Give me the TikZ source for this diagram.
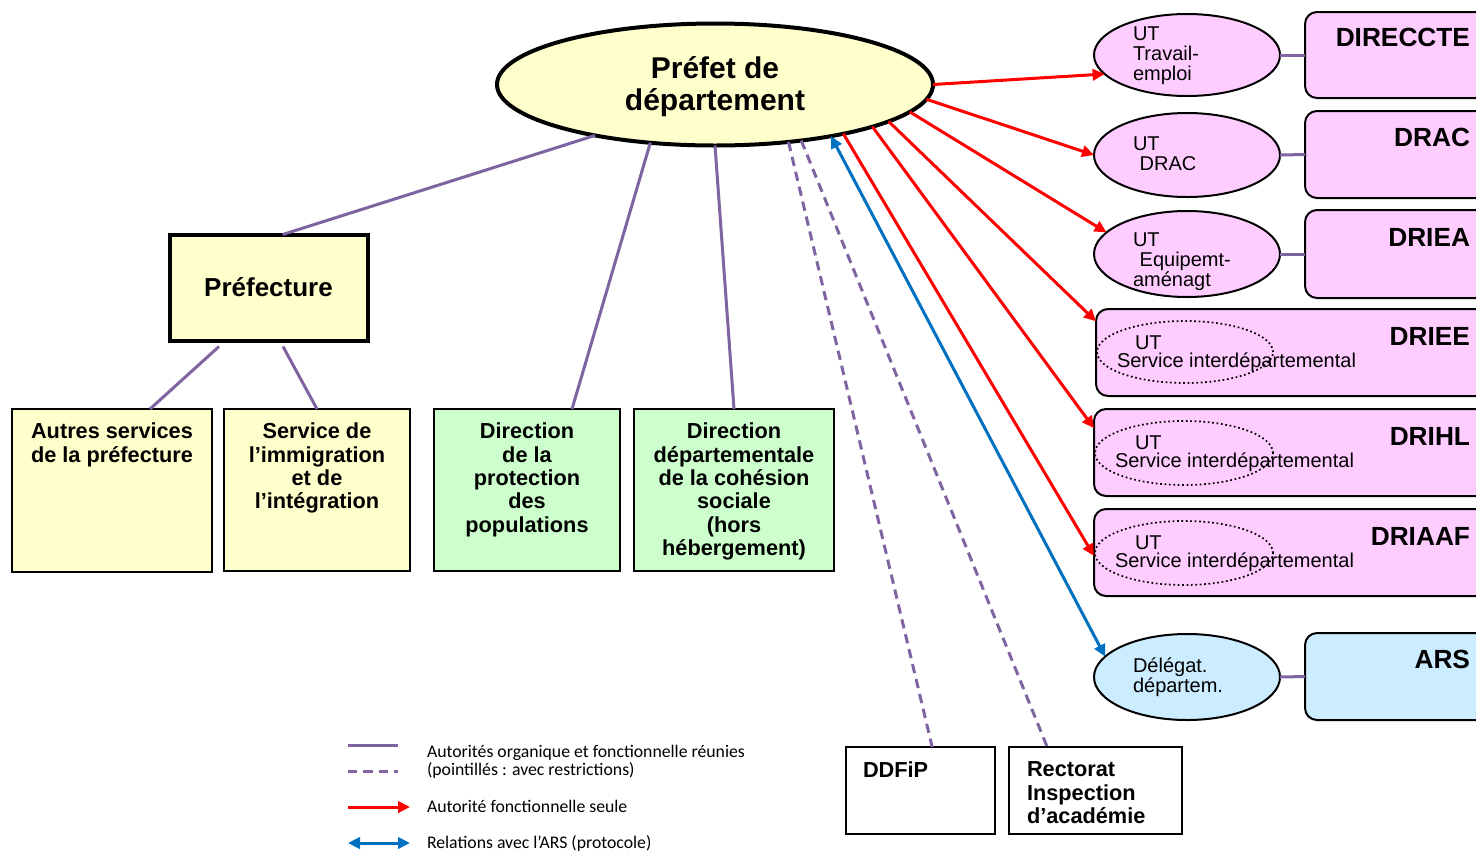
\documentclass[tikz,border=0pt]{standalone}
\usepackage{fontspec}
\setmainfont{Liberation Sans}
\newfontfamily\legfont{Carlito}
\usetikzlibrary{shapes.geometric,arrows.meta,calc}
\definecolor{cyellow}{HTML}{FFFFCC}
\definecolor{cgreen}{HTML}{CCFFCC}
\definecolor{cpink}{HTML}{FFCCFF}
\definecolor{cblue}{HTML}{CCECFF}
\definecolor{cpurple}{HTML}{8064A2}
\definecolor{cred}{HTML}{FF0000}
\definecolor{carrowblue}{HTML}{0070C0}
\newcommand{\mybox}[6]{\node[#6, minimum width={(#4-#2)*0.75pt}, minimum height={(#5-#3)*0.75pt}] (#1) at ({(#2+#4)/2},{(#3+#5)/2}) {};}
\newcommand{\myell}[6]{\node[#6, minimum width={2*#4*0.75pt}, minimum height={2*#5*0.75pt}] (#1) at (#2,#3) {};}
\begin{document}
\begin{tikzpicture}[x=0.75pt,y=-0.75pt,
  every node/.style={inner sep=0pt, outer sep=0pt},
  yrect/.style={draw=black, fill=cyellow, line width=1.5pt},
  grect/.style={draw=black, fill=cgreen, line width=1.5pt},
  wrect/.style={draw=black, fill=white, line width=1.5pt},
  pinkbox/.style={draw=black, fill=cpink, line width=1.5pt, rounded corners=9pt},
  bluebox/.style={draw=black, fill=cblue, line width=1.5pt, rounded corners=9pt},
  utell/.style={ellipse, draw=black, fill=cpink, line width=1.5pt},
  arsell/.style={ellipse, draw=black, fill=cblue, line width=1.5pt},
  dotell/.style={ellipse, draw=black, dotted, line width=1.3pt},
  org/.style={draw=cpurple, line width=2.25pt},
  orgd/.style={draw=cpurple, line width=2.25pt, dash pattern=on 7pt off 4.5pt},
  fonc/.style={draw=cred, line width=2.25pt, -{Triangle[length=9pt,width=8.5pt]}},
  arsrel/.style={draw=carrowblue, line width=2.25pt, {Triangle[length=9pt,width=8.5pt]}-{Triangle[length=9pt,width=8.5pt]}},
  boxtxt/.style={font=\fontsize{16.3}{17.5}\selectfont\bfseries, align=center, anchor=north},
  lefttxt/.style={font=\fontsize{16.3}{17.5}\selectfont\bfseries, align=left, anchor=north west},
  bigtxt/.style={font=\fontsize{19.7}{21}\selectfont\bfseries, anchor=north east},
  uttxt/.style={font=\fontsize{15}{15}\selectfont, align=left, anchor=north west},
  legtxt/.style={font=\legfont\fontsize{13.3}{14}\selectfont, anchor=base west}
]
\fill[white] (0,0) rectangle (1476,851);
\clip (0,0) rectangle (1476,851);

% central ellipse
\node[ellipse, draw=black, fill=cyellow, line width=3pt,
  minimum width={436*0.75pt}, minimum height={122*0.75pt}] (prefet) at (715,84.5) {};
\node[font=\fontsize{22.5}{24}\selectfont\bfseries, align=center] (tprefet) at ($(prefet.center)+(0,2.5)$) {Préfet de\\département};

% left boxes
\node[draw=black, fill=cyellow, line width=3pt, minimum width={198*0.75pt}, minimum height={106*0.75pt},
  font=\fontsize{19.5}{21}\selectfont\bfseries] (prefecture) at (268.5,287.5) {Préfecture};
\mybox{autres}{12}{409}{212}{572}{yrect}
\mybox{immig}{224}{409}{410}{571}{yrect}
\mybox{protec}{434}{409}{620}{571}{grect}
\mybox{cohes}{634}{409}{834}{571}{grect}
\node[boxtxt] (tautres) at ($(autres.north)+(0,14)$) {Autres services\\de la préfecture};
\node[boxtxt] (timmig) at ($(immig.north)+(0,14)$) {Service de\\l’immigration\\et de\\l’intégration};
\node[boxtxt] (tprotec) at ($(protec.north)+(0,14)$) {Direction\\de la\\protection\\des\\populations};
\node[boxtxt] (tcohes) at ($(cohes.north)+(0,14)$) {Direction\\départementale\\de la cohésion\\sociale\\(hors\\hébergement)};

% bottom boxes
\mybox{ddfip}{846}{747}{995}{834}{wrect}
\mybox{rectorat}{1009}{747}{1182}{834}{wrect}
\node[lefttxt] (tddfip) at ($(ddfip.north west)+(17,15)$) {DDFiP};
\node[lefttxt] (trectorat) at ($(rectorat.north west)+(18,15)$) {Rectorat\\Inspection\\d’académie};

% right boxes
\mybox{direccte}{1305}{12}{1490}{98}{pinkbox}
\mybox{drac}{1305}{111}{1490}{198}{pinkbox}
\mybox{driea}{1305}{210}{1490}{298}{pinkbox}
\mybox{driee}{1096}{309}{1490}{396}{pinkbox}
\mybox{drihl}{1094}{409}{1490}{496}{pinkbox}
\mybox{driaaf}{1094}{509}{1490}{596}{pinkbox}
\mybox{ars}{1305}{633}{1490}{720}{bluebox}
\node[bigtxt] (tdireccte) at ($(direccte.north east)+(-20,16)$) {DIRECCTE};
\node[bigtxt] (tdrac) at ($(drac.north east)+(-20,17)$) {DRAC};
\node[bigtxt] (tdriea) at ($(driea.north east)+(-20,18)$) {DRIEA};
\node[bigtxt] (tdriee) at ($(driee.north east)+(-20,18)$) {DRIEE};
\node[bigtxt] (tdrihl) at ($(drihl.north east)+(-20,18)$) {DRIHL};
\node[bigtxt] (tdriaaf) at ($(driaaf.north east)+(-20,18)$) {DRIAAF};
\node[bigtxt] (tars) at ($(ars.north east)+(-20,17)$) {ARS};

% UT ellipses
\myell{ut1}{1187}{55}{93}{41}{utell}
\myell{ut2}{1187}{155}{93}{42}{utell}
\myell{ut3}{1187}{254}{93}{43}{utell}
\myell{delars}{1187}{677}{93}{43}{arsell}
\node[uttxt] (tut1) at (1133,27) {UT\\Travail-\\emploi};
\node[uttxt] (tut2) at (1133,137) {UT\\\hspace*{5pt}DRAC};
\node[uttxt] (tut3) at (1133,233) {UT\\\hspace*{5pt}Equipemt-\\aménagt};
\node[uttxt] (tdelars) at (1133,658) {Délégat.\\départem.};

% dotted ellipses
\myell{d1}{1185}{352}{88}{31}{dotell}
\myell{d2}{1184}{453}{89}{32}{dotell}
\myell{d3}{1184}{553}{89}{32}{dotell}
\node[uttxt] (ud1) at (1135,336) {UT};
\node[uttxt] (sd1) at (1117,353) {Service interdépartemental};
\node[uttxt] (ud2) at (1135,436) {UT};
\node[uttxt] (sd2) at (1115,453) {Service interdépartemental};
\node[uttxt] (ud3) at (1135,536) {UT};
\node[uttxt] (sd3) at (1115,553) {Service interdépartemental};

% links UT -> regional boxes
\draw[org] (ut1.east) -- (direccte.west);
\draw[org] (ut2.east) -- (drac.west);
\draw[org] (ut3.east) -- (driea.west);
\draw[org] (delars.east) -- (ars.west);

% organic links
\draw[org] (prefet.203.6) -- (prefecture.75);
\draw[org] (prefet.-138.3) -- ($(protec.north)+(45,0)$);
\draw[org] (prefet.south) -- (cohes.north);
\draw[org] ($(prefecture.south)+(-49.5,6)$) -- ($(autres.north)+(38,0)$);
\draw[org] ($(prefecture.south)+(14.5,6)$) -- (immig.north);
\draw[orgd] (prefet.-38) -- (ddfip.75.4);
\draw[orgd] (prefet.-33.9) -- (rectorat.138.9);

% functional authority
\draw[fonc] (prefet.0) -- (ut1.193.7);
\draw[fonc] (prefet.-4) -- (ut2.west);
\draw[fonc] (prefet.-8.1) -- (ut3.165.6);
\draw[fonc] (prefet.-12.1) -- (driee.171.2);
\draw[fonc] (prefet.-15.9) -- (drihl.173.5);
\draw[fonc] (prefet.-21.6) -- (driaaf.181.3);
\draw[arsrel] (prefet.-24) -- (delars.166.3);

% legend
\coordinate (l1a) at (348,745); \coordinate (l1b) at (398,745);
\coordinate (l2a) at (348,771); \coordinate (l2b) at (398,771);
\coordinate (l3a) at (348,807); \coordinate (l3b) at (410,807);
\coordinate (l4a) at (348,843); \coordinate (l4b) at (410,843);
\draw[org] (l1a) -- (l1b);
\draw[orgd] (l2a) -- (l2b);
\draw[fonc] (l3a) -- (l3b);
\draw[arsrel] (l4a) -- (l4b);
\node[legtxt] (lt1) at (427,757) {Autorités organique et fonctionnelle réunies};
\node[legtxt] (lt2) at (427,775) {(pointillés : avec restrictions)};
\node[legtxt] (lt3) at (427,812) {Autorité fonctionnelle seule};
\node[legtxt] (lt4) at (427,848) {Relations avec l’ARS (protocole)};
\end{tikzpicture}
\end{document}
